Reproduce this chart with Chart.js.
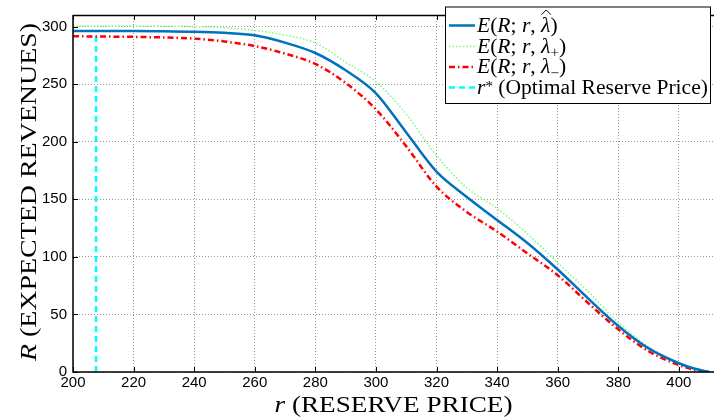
<!DOCTYPE html>
<html>
<head>
<meta charset="utf-8">
<script src="https://cdn.jsdelivr.net/npm/chart.js@4.4.0/dist/chart.umd.min.js"></script>
<style>
html, body { margin: 0; padding: 0; background: #fff; }
</style>
</head>
<body>
<canvas id="graficoIngresos" width="714" height="419"></canvas>
<script>
// precio de reserva r y ingresos esperados para cada lambda
const precios = [200, 210, 220, 230, 240, 250, 260, 270, 280, 290, 300, 310, 320, 330, 340, 350, 360, 370, 380, 390, 400, 405, 410];
const ingresoEstimado = [296, 296, 296, 295.8, 295.5, 294.5, 292.4, 286, 277, 262, 242, 208, 174, 152, 132, 112, 89, 64, 40, 20.5, 7.6, 3, 0];
const ingresoMas = [300.5, 300.5, 300.5, 300.3, 300, 299, 296.6, 292.5, 285.8, 269, 252, 224, 188, 160, 142, 120, 95, 70, 43, 22, 8, 3, 0];
const ingresoMenos = [291.5, 291.3, 291, 290.5, 289.5, 287, 283, 276.5, 267.5, 251, 228, 196, 161, 139, 122, 103, 84, 60, 37, 18, 6, 2, 0];
const precioOptimo = [207.6, 207.6];
const ingresoOptimo = [0, 295];
const ticksX = [200, 220, 240, 260, 280, 300, 320, 340, 360, 380, 400];
const ticksY = [0, 50, 100, 150, 200, 250, 300];

const SERIF = '"Liberation Serif", "DejaVu Serif", serif';
const SANS = '"Liberation Sans", Arial, sans-serif';

const puntos = (xs, ys) => xs.map((x, i) => ({ x: x, y: ys[i] }));

// texto con partes en cursiva, subindices, superindices y sombrero
function anchoPartes(ctx, partes, tam) {
    let w = 0;
    for (const p of partes) {
        const t = (p.sub || p.sup) ? tam * 0.7 : tam;
        ctx.font = `${p.it ? 'italic ' : ''}${t}px ${SERIF}`;
        w += ctx.measureText(p.t).width;
    }
    return w;
}

function dibujarPartes(ctx, x, y, partes, tam) {
    for (const p of partes) {
        const t = (p.sub || p.sup) ? tam * 0.7 : tam;
        ctx.font = `${p.it ? 'italic ' : ''}${t}px ${SERIF}`;
        const dy = p.sub ? tam * 0.22 : p.sup ? -tam * 0.12 : 0;
        ctx.fillText(p.t, x, y + dy);
        const w = ctx.measureText(p.t).width;
        if (p.hat) {
            ctx.save();
            ctx.lineWidth = 1;
            ctx.strokeStyle = '#000';
            ctx.beginPath();
            ctx.moveTo(x + w * 0.05, y - tam * 0.78);
            ctx.lineTo(x + w * 0.55, y - tam * 1.0);
            ctx.lineTo(x + w * 1.05, y - tam * 0.78);
            ctx.stroke();
            ctx.restore();
        }
        x += w;
    }
    return x;
}

// titulo estirado en horizontal hasta el ancho pedido
function tituloAjustado(ctx, cx, y, partes, tam, ancho) {
    const w = anchoPartes(ctx, partes, tam);
    ctx.save();
    ctx.translate(cx, y);
    ctx.scale(ancho / w, 1);
    dibujarPartes(ctx, -w / 2, 0, partes, tam);
    ctx.restore();
}

const leyenda = [
    { color: '#0072bd', ancho: 2.5, dash: [], partes: [{ t: 'E', it: true }, { t: '(' }, { t: 'R', it: true }, { t: '; ' }, { t: 'r', it: true }, { t: ', ' }, { t: 'λ', it: true, hat: true }, { t: ')' }] },
    { color: '#7dfa7d', ancho: 1.5, dash: [1.5, 2], partes: [{ t: 'E', it: true }, { t: '(' }, { t: 'R', it: true }, { t: '; ' }, { t: 'r', it: true }, { t: ', ' }, { t: 'λ', it: true }, { t: '+', sub: true }, { t: ')' }] },
    { color: '#ff0000', ancho: 2.5, dash: [6, 3, 1.5, 3], partes: [{ t: 'E', it: true }, { t: '(' }, { t: 'R', it: true }, { t: '; ' }, { t: 'r', it: true }, { t: ', ' }, { t: 'λ', it: true }, { t: '−', sub: true }, { t: ')' }] },
    { color: '#00ffff', ancho: 2.5, dash: [6, 4], partes: [{ t: 'r', it: true }, { t: '*', sup: true }, { t: ' (Optimal Reserve Price)' }] }
];

const pluginDecoracion = {
    id: 'decoracion',
    afterDraw(chart) {
        const { ctx, chartArea: a, scales: { x, y } } = chart;
        ctx.save();
        // marco, ejes y marcas interiores
        ctx.strokeStyle = '#000';
        ctx.lineWidth = 1.5;
        ctx.setLineDash([]);
        ctx.beginPath();
        ctx.moveTo(a.left, a.top + 0.5);
        ctx.lineTo(a.right, a.top + 0.5);
        ctx.moveTo(a.left, a.top);
        ctx.lineTo(a.left, a.bottom);
        ctx.lineTo(a.right, a.bottom);
        ctx.stroke();
        ctx.lineWidth = 1;
        ctx.beginPath();
        for (const v of ticksX) {
            const px = Math.round(x.getPixelForValue(v)) + 0.5;
            ctx.moveTo(px, a.bottom); ctx.lineTo(px, a.bottom - 5);
            ctx.moveTo(px, a.top); ctx.lineTo(px, a.top + 5);
        }
        for (const v of ticksY) {
            const py = Math.round(y.getPixelForValue(v)) + 0.5;
            ctx.moveTo(a.left, py); ctx.lineTo(a.left + 5, py);
        }
        ctx.stroke();

        // leyenda
        const box = { l: 445.5, t: 7, r: 710.5, b: 103.5 };
        ctx.fillStyle = '#fff';
        ctx.fillRect(box.l, box.t, box.r - box.l, box.b - box.t);
        ctx.strokeRect(box.l, box.t, box.r - box.l, box.b - box.t);
        const tamLey = 17 * 231 / anchoPartes(ctx, leyenda[3].partes, 17);
        const bases = [31.5, 52.5, 73, 93.5];
        leyenda.forEach((e, i) => {
            ctx.save();
            ctx.strokeStyle = e.color;
            ctx.lineWidth = e.ancho;
            ctx.setLineDash(e.dash);
            ctx.beginPath();
            ctx.moveTo(449, bases[i] - 6);
            ctx.lineTo(475, bases[i] - 6);
            ctx.stroke();
            ctx.restore();
            ctx.fillStyle = '#000';
            ctx.textBaseline = 'alphabetic';
            dibujarPartes(ctx, 477, bases[i], e.partes, tamLey);
        });

        // titulos de los ejes
        ctx.fillStyle = '#000';
        tituloAjustado(ctx, (a.left + a.right) / 2, 412,
            [{ t: 'r', it: true }, { t: ' (RESERVE PRICE)' }], 23, 238);
        ctx.save();
        ctx.translate(36, 192);
        ctx.rotate(-Math.PI / 2);
        tituloAjustado(ctx, 0, 0,
            [{ t: 'R', it: true }, { t: ' (EXPECTED REVENUES)' }], 23, 338);
        ctx.restore();
        ctx.restore();
    }
};

const ctx = document.getElementById('graficoIngresos').getContext('2d');
new Chart(ctx, {
    type: 'line',
    data: {
        datasets: [
            {
                label: 'E(R; r, λ̂)',
                data: puntos(precios, ingresoEstimado),
                borderColor: '#0072bd',
                borderWidth: 2.5,
                cubicInterpolationMode: 'monotone',
                pointRadius: 0,
                order: 1
            },
            {
                label: 'E(R; r, λ+)',
                data: puntos(precios, ingresoMas),
                borderColor: '#7dfa7d',
                borderWidth: 1.5,
                borderDash: [1.5, 2],
                cubicInterpolationMode: 'monotone',
                pointRadius: 0,
                order: 2
            },
            {
                label: 'E(R; r, λ−)',
                data: puntos(precios, ingresoMenos),
                borderColor: '#ff0000',
                borderWidth: 2.5,
                borderDash: [6, 3, 1.5, 3],
                cubicInterpolationMode: 'monotone',
                pointRadius: 0,
                order: 3
            },
            {
                label: 'r* (Optimal Reserve Price)',
                data: puntos(precioOptimo, ingresoOptimo),
                borderColor: '#00ffff',
                borderWidth: 2.5,
                borderDash: [6, 4],
                pointRadius: 0,
                order: 4
            }
        ]
    },
    options: {
        responsive: false,
        animation: false,
        layout: { padding: { top: 6, right: 0, left: 0, bottom: 0 } },
        plugins: {
            legend: { display: false },
            tooltip: { enabled: false }
        },
        scales: {
            x: {
                type: 'linear',
                min: 200,
                max: 411.6,
                afterBuildTicks: s => { s.ticks = ticksX.map(v => ({ value: v })); },
                afterFit: s => { s.height = 47; },
                grid: { color: '#9a9a9a', lineWidth: 1, drawTicks: false },
                border: { display: false, dash: [1, 2] },
                ticks: { color: '#000', font: { family: SANS, size: 15 }, padding: 2, maxRotation: 0 }
            },
            y: {
                min: 0,
                max: 310,
                afterBuildTicks: s => { s.ticks = ticksY.map(v => ({ value: v })); },
                afterFit: s => { s.width = 73; },
                grid: { color: '#9a9a9a', lineWidth: 1, drawTicks: false },
                border: { display: false, dash: [1, 2] },
                ticks: { color: '#000', font: { family: SANS, size: 15 }, padding: 6 }
            }
        }
    },
    plugins: [pluginDecoracion]
});
</script>
</body>
</html>
